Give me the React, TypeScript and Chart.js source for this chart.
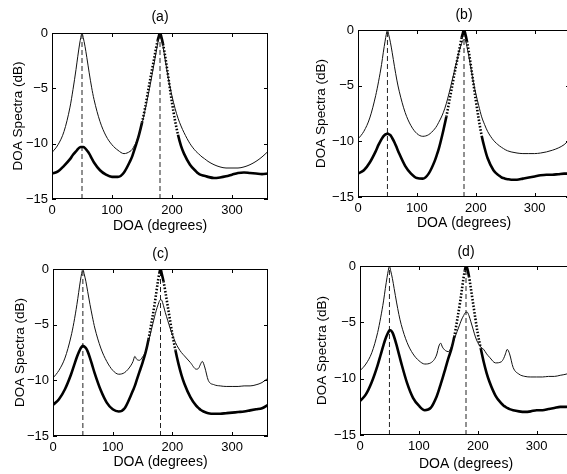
import React, { useEffect, useRef } from "react";
import { Chart, registerables } from "chart.js";

Chart.register(...registerables);

// ---------- data ----------
const DOA = [
  0, 10, 20, 30, 35, 40, 43, 46, 48, 50,
  52, 55, 58, 62, 66, 70, 80, 90, 100, 110,
  120, 130, 134, 137, 140, 145, 150, 155, 160, 165,
  170, 173, 176, 178, 180, 182, 185, 188, 192, 196,
  200, 205, 210, 215, 220, 230, 240, 244, 247, 250,
  254, 260, 270, 280, 290, 300, 310, 320, 330, 340,
  350, 360,
];

const THIN_A = [
  -10.8, -10.1, -8.9, -6.7, -5.1, -3.3, -2.1, -1.0, -0.4, 0,
  -0.4, -1.2, -2.2, -3.6, -4.9, -6.0, -8.0, -9.3, -10.1, -10.6,
  -10.9, -10.7, -10.5, -10.2, -9.9, -9.2, -8.2, -7.0, -5.7, -4.3,
  -2.8, -1.9, -1.0, -0.4, 0, -0.4, -1.2, -2.2, -3.5, -4.7,
  -5.7, -6.8, -7.7, -8.4, -9.0, -10.0, -10.7, -10.9, -11.05, -11.2,
  -11.35, -11.6, -11.9, -12.1, -12.2, -12.2, -12.2, -12.1, -11.9, -11.6,
  -11.2, -10.7,
];
const THICK_A = [
  -12.7, -12.5, -12.0, -11.4, -11.0, -10.7, -10.5, -10.35, -10.3, -10.3,
  -10.3, -10.4, -10.6, -10.9, -11.3, -11.7, -12.4, -12.8, -13.0, -13.0,
  -12.6, -11.6, -11.1, -10.6, -10.1, -9.2, -8.1, -6.8, -5.3, -3.8,
  -2.4, -1.5, -0.7, -0.3, 0, -0.3, -1.0, -1.9, -3.3, -4.8,
  -6.3, -7.9, -9.2, -10.2, -10.9, -11.9, -12.5, -12.7, -12.8, -12.85,
  -12.9, -13.0, -13.1, -13.05, -12.95, -12.8, -12.65, -12.6, -12.65, -12.7,
  -12.75, -12.7,
];

const THIN_B = [
  -9.8, -9.1, -7.9, -5.9, -4.6, -3.1, -2.0, -1.0, -0.4, 0,
  -0.4, -1.1, -2.0, -3.3, -4.5, -5.5, -7.4, -8.6, -9.3, -9.55,
  -9.4, -8.9, -8.6, -8.3, -8.0, -7.4, -6.6, -5.6, -4.5, -3.4,
  -2.3, -1.7, -1.2, -0.95, -0.85, -0.9, -1.5, -2.3, -3.5, -4.7,
  -5.7, -6.8, -7.8, -8.5, -9.1, -9.9, -10.4, -10.55, -10.65, -10.75,
  -10.85, -10.95, -11.05, -11.1, -11.1, -11.1, -11.05, -10.95, -10.8, -10.6,
  -10.3, -9.8,
];
const THICK_B = [
  -12.9, -12.6, -11.9, -10.9, -10.3, -9.8, -9.55, -9.4, -9.35, -9.3,
  -9.35, -9.45, -9.7, -10.1, -10.6, -11.1, -12.2, -12.9, -13.3, -13.35,
  -12.9, -11.8, -11.2, -10.7, -10.1, -9.0, -7.8, -6.4, -5.0, -3.6,
  -2.3, -1.5, -0.7, -0.3, 0, -0.3, -1.0, -1.9, -3.3, -4.8,
  -6.3, -8.0, -9.5, -10.6, -11.5, -12.6, -13.1, -13.25, -13.3, -13.35,
  -13.4, -13.45, -13.45, -13.35, -13.25, -13.15, -13.05, -13.0, -13.0, -12.95,
  -12.9, -12.9,
];

const THIN_C = [
  -9.8, -9.1, -8.0, -6.1, -4.8, -3.2, -2.1, -1.0, -0.4, 0,
  -0.4, -1.1, -2.0, -3.2, -4.3, -5.3, -7.1, -8.3, -9.1, -9.45,
  -9.3, -8.7, -8.3, -7.85, -8.1, -8.2, -7.9, -7.4, -6.5, -5.4,
  -4.3, -3.7, -3.2, -2.9, -2.75, -2.8, -3.3, -3.9, -4.6, -5.3,
  -5.9, -6.6, -7.1, -7.5, -7.8, -8.4, -9.0, -8.9, -8.55, -8.3,
  -8.8, -10.0, -10.4, -10.5, -10.55, -10.55, -10.55, -10.5, -10.5, -10.4,
  -10.2, -9.8,
];
const THICK_C = [
  -12.2, -11.7, -10.8, -9.5, -8.7, -7.9, -7.5, -7.15, -7.0, -6.9,
  -6.95, -7.1, -7.4, -8.0, -8.7, -9.4, -10.9, -12.0, -12.6, -12.8,
  -12.5, -11.4, -10.9, -10.5, -10.0, -9.2, -8.4, -7.5, -6.3, -4.8,
  -3.2, -2.1, -1.0, -0.4, 0, -0.4, -1.1, -2.0, -3.3, -4.6,
  -5.9, -7.3, -8.5, -9.5, -10.3, -11.5, -12.3, -12.5, -12.65, -12.75,
  -12.85, -12.95, -13.0, -13.0, -12.95, -12.9, -12.85, -12.8, -12.7, -12.6,
  -12.5, -12.2,
];

const THIN_D = [
  -9.3, -8.7, -7.7, -5.9, -4.6, -3.1, -2.0, -1.0, -0.4, 0,
  -0.4, -1.1, -2.0, -3.2, -4.3, -5.2, -6.8, -7.8, -8.4, -8.7,
  -8.6, -7.9, -7.1, -6.85, -7.2, -7.5, -7.6, -7.2, -6.5, -5.8,
  -5.1, -4.7, -4.4, -4.2, -4.1, -4.1, -4.4, -4.9, -5.6, -6.3,
  -6.8, -7.2, -7.4, -7.8, -8.1, -8.6, -8.5, -8.2, -7.8, -7.4,
  -7.8, -9.0, -9.6, -9.8, -9.85, -9.85, -9.85, -9.8, -9.8, -9.7,
  -9.6, -9.4,
];
const THICK_D = [
  -12.0, -11.4, -10.3, -8.8, -7.9, -7.0, -6.5, -6.1, -5.9, -5.7,
  -5.7, -5.9, -6.3, -7.0, -7.8, -8.6, -10.4, -11.7, -12.4, -12.8,
  -12.6, -11.6, -11.0, -10.5, -10.0, -9.1, -8.2, -7.4, -6.3, -4.8,
  -3.2, -2.1, -1.0, -0.4, 0, -0.2, -0.9, -1.9, -3.3, -4.7,
  -6.0, -7.3, -8.5, -9.5, -10.3, -11.5, -12.2, -12.4, -12.5, -12.6,
  -12.7, -12.8, -12.9, -12.95, -12.9, -12.8, -12.8, -12.7, -12.6, -12.5,
  -12.5, -12.4,
];

const TRUE_DOA = [50, 180];
const X_TICKS = [0, 100, 200, 300];
const Y_TICKS = [0, -5, -10, -15];
const PANEL_LABELS = ["(a)", "(b)", "(c)", "(d)"];
const X_TITLE = "DOA (degrees)";
const Y_TITLE = "DOA Spectra (dB)";

// ---------- layout (pixels, relative to each canvas) ----------
type Layout = {
  left: number; top: number; width: number; height: number;
  areaLeft: number; areaTop: number; areaRight: number; areaBottom: number;
  yTitleX: number; xTitleY: number; titleY: number;
};

const LAYOUTS: Layout[] = [
  { left: 0, top: 0, width: 284, height: 237, areaLeft: 52, areaTop: 33, areaRight: 268, areaBottom: 199, yTitleX: 18.5, xTitleY: 226, titleY: 17 },
  { left: 284, top: 0, width: 300, height: 237, areaLeft: 74, areaTop: 30, areaRight: 286, areaBottom: 197, yTitleX: 37, xTitleY: 223, titleY: 15 },
  { left: 0, top: 237, width: 284, height: 237, areaLeft: 53, areaTop: 32, areaRight: 268, areaBottom: 199, yTitleX: 20, xTitleY: 225, titleY: 17 },
  { left: 284, top: 237, width: 300, height: 237, areaLeft: 76, areaTop: 29, areaRight: 288, areaBottom: 198, yTitleX: 38, xTitleY: 227, titleY: 15 },
];

const SERIES = [
  [THIN_A, THICK_A],
  [THIN_B, THICK_B],
  [THIN_C, THICK_C],
  [THIN_D, THICK_D],
];

const NARROW = "'Liberation Sans Narrow', 'Liberation Sans', Arial, sans-serif";
const SANS = "'Liberation Sans', Arial, sans-serif";

const framePlugin = {
  id: "matlabFrame",
  afterDatasetsDraw(chart: any) {
    const { ctx, chartArea } = chart;
    const xs = chart.scales.x;
    const ys = chart.scales.y;
    const { left, top, right, bottom } = chartArea;
    ctx.save();
    ctx.strokeStyle = "#000";
    ctx.lineWidth = 1;
    ctx.strokeRect(Math.round(left) + 0.5, Math.round(top) + 0.5, Math.round(right - left) - 1, Math.round(bottom - top) - 1);
    const tl = 4;
    ctx.beginPath();
    X_TICKS.forEach((v) => {
      const px = Math.round(xs.getPixelForValue(v)) + 0.5;
      ctx.moveTo(px, bottom);
      ctx.lineTo(px, bottom - tl);
      ctx.moveTo(px, top);
      ctx.lineTo(px, top + tl);
    });
    Y_TICKS.forEach((v) => {
      const py = Math.round(ys.getPixelForValue(v)) + 0.5;
      ctx.moveTo(left, py);
      ctx.lineTo(left + tl, py);
      ctx.moveTo(right, py);
      ctx.lineTo(right - tl, py);
    });
    ctx.stroke();
    ctx.restore();
  },
};

function makeConfig(i: number): any {
  const L = LAYOUTS[i];
  const [thin, thick] = SERIES[i];
  const pts = (arr: number[]) => DOA.map((x, k) => ({ x, y: arr[k] }));
  const datasets: any[] = [
    {
      data: pts(thin),
      showLine: true,
      borderColor: "#111",
      borderWidth: 1,
      pointRadius: 0,
      cubicInterpolationMode: "monotone",
    },
    {
      data: pts(thick),
      showLine: true,
      borderColor: "#000",
      borderWidth: 2.6,
      pointRadius: 0,
      cubicInterpolationMode: "monotone",
      segment: {
        borderDash: (ctx: any) => {
          const dx = Math.abs(ctx.p1.x - ctx.p0.x);
          const dy = Math.abs(ctx.p1.y - ctx.p0.y);
          return dy > 4.6 * dx ? [1.5, 1.8] : undefined;
        },
      },
    },
    ...TRUE_DOA.map((d) => ({
      data: [{ x: d, y: Y_TICKS[Y_TICKS.length - 1] }, { x: d, y: Y_TICKS[0] }],
      showLine: true,
      borderColor: "#222",
      borderWidth: 1,
      borderDash: [5, 3],
      pointRadius: 0,
    })),
  ];

  return {
    type: "scatter",
    data: { datasets },
    options: {
      responsive: false,
      animation: false,
      devicePixelRatio: 1,
      layout: { padding: { left: 0, top: 0, right: L.width - L.areaRight, bottom: 0 } },
      plugins: {
        legend: { display: false },
        tooltip: { enabled: false },
        title: {
          display: true,
          text: PANEL_LABELS[i],
          fullSize: false,
          color: "#000",
          font: { family: NARROW, size: 14, weight: "normal", lineHeight: 1.2 },
          padding: { top: L.titleY - 8.4, bottom: L.areaTop - L.titleY - 8.4 },
        },
      },
      scales: {
        x: {
          type: "linear",
          min: 0,
          max: 360,
          afterBuildTicks: (s: any) => {
            s.ticks = X_TICKS.map((v) => ({ value: v }));
          },
          afterFit: (s: any) => {
            s.height = L.height - L.areaBottom;
          },
          ticks: {
            autoSkip: false,
            maxRotation: 0,
            padding: 4,
            color: "#000",
            font: { family: NARROW, size: 13 },
            callback: (v: any) => String(v),
          },
          grid: { display: false, drawTicks: false },
          border: { display: false },
          title: {
            display: true,
            text: X_TITLE,
            color: "#000",
            font: { family: NARROW, size: 14, lineHeight: 1.2 },
            padding: { top: 0, bottom: L.height - L.xTitleY - 8.4 },
          },
        },
        y: {
          type: "linear",
          min: -15,
          max: 0,
          afterBuildTicks: (s: any) => {
            s.ticks = Y_TICKS.map((v) => ({ value: v }));
          },
          afterFit: (s: any) => {
            s.width = L.areaLeft;
          },
          ticks: {
            autoSkip: false,
            padding: 4,
            color: "#000",
            font: { family: NARROW, size: 13 },
            callback: (v: any) => (v < 0 ? "\u2212" + Math.abs(v) : String(v)),
          },
          grid: { display: false, drawTicks: false },
          border: { display: false },
          title: {
            display: true,
            text: Y_TITLE,
            color: "#000",
            font: { family: SANS, size: 13.5, lineHeight: 1.2 },
            padding: { top: L.yTitleX - 8.1, bottom: 0 },
          },
        },
      },
    },
    plugins: [framePlugin],
  };
}

function Panel({ index }: { index: number }) {
  const ref = useRef<HTMLCanvasElement | null>(null);
  const L = LAYOUTS[index];
  useEffect(() => {
    if (!ref.current) return;
    const chart = new Chart(ref.current, makeConfig(index));
    return () => chart.destroy();
  }, [index]);
  return (
    <canvas
      ref={ref}
      width={L.width}
      height={L.height}
      style={{ position: "absolute", left: L.left, top: L.top, width: L.width, height: L.height }}
    />
  );
}

export default function App() {
  return (
    <div
      style={{
        position: "absolute",
        left: 0,
        top: 0,
        width: 567,
        height: 474,
        overflow: "hidden",
        background: "#fff",
      }}
    >
      {LAYOUTS.map((_, i) => (
        <Panel key={i} index={i} />
      ))}
    </div>
  );
}
